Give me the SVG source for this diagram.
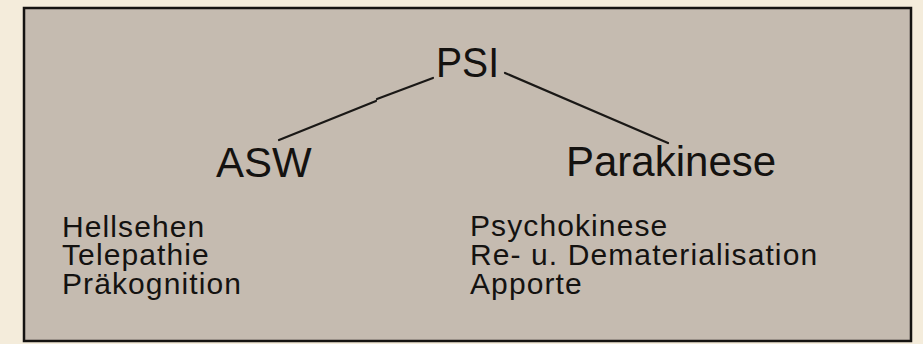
<svg xmlns="http://www.w3.org/2000/svg" width="923" height="344" viewBox="0 0 923 344">
<style>
.big{font-family:"Liberation Sans",Arial,Helvetica,sans-serif;font-size:42px;fill:#141210}
.small{font-family:"Liberation Sans",Arial,Helvetica,sans-serif;font-size:30px;letter-spacing:1.1px;fill:#141210}
.conn{fill:none;stroke:#1a1816;stroke-width:2.2;stroke-linecap:round;stroke-linejoin:round}
</style>
<rect x="0" y="0" width="923" height="344" fill="#f4ecdb"/>
<g id="frame">
<rect x="24" y="8" width="887" height="333" fill="#c5bbb0" stroke="#151311" stroke-width="2.5"/>
</g>
<g id="connectors">
<polyline class="conn" points="279,140 376,101"/>
<polyline class="conn" points="377,99 433,78"/>
<polyline class="conn" points="505,73 668,143"/>
</g>
<g id="psi">
<text class="big" x="436" y="77" textLength="63" lengthAdjust="spacingAndGlyphs">PSI</text>
</g>
<g id="asw">
<text class="big" x="216" y="177">ASW</text>
</g>
<g id="parakinese">
<text class="big" x="566" y="176">Parakinese</text>
</g>
<g id="asw-items">
<text class="small" x="62" y="237">Hellsehen</text>
<text class="small" x="62" y="265">Telepathie</text>
<text class="small" x="62" y="294">Präkognition</text>
</g>
<g id="parakinese-items">
<text class="small" x="470" y="236">Psychokinese</text>
<text class="small" x="470" y="265">Re- u. Dematerialisation</text>
<text class="small" x="470" y="294">Apporte</text>
</g>
</svg>
